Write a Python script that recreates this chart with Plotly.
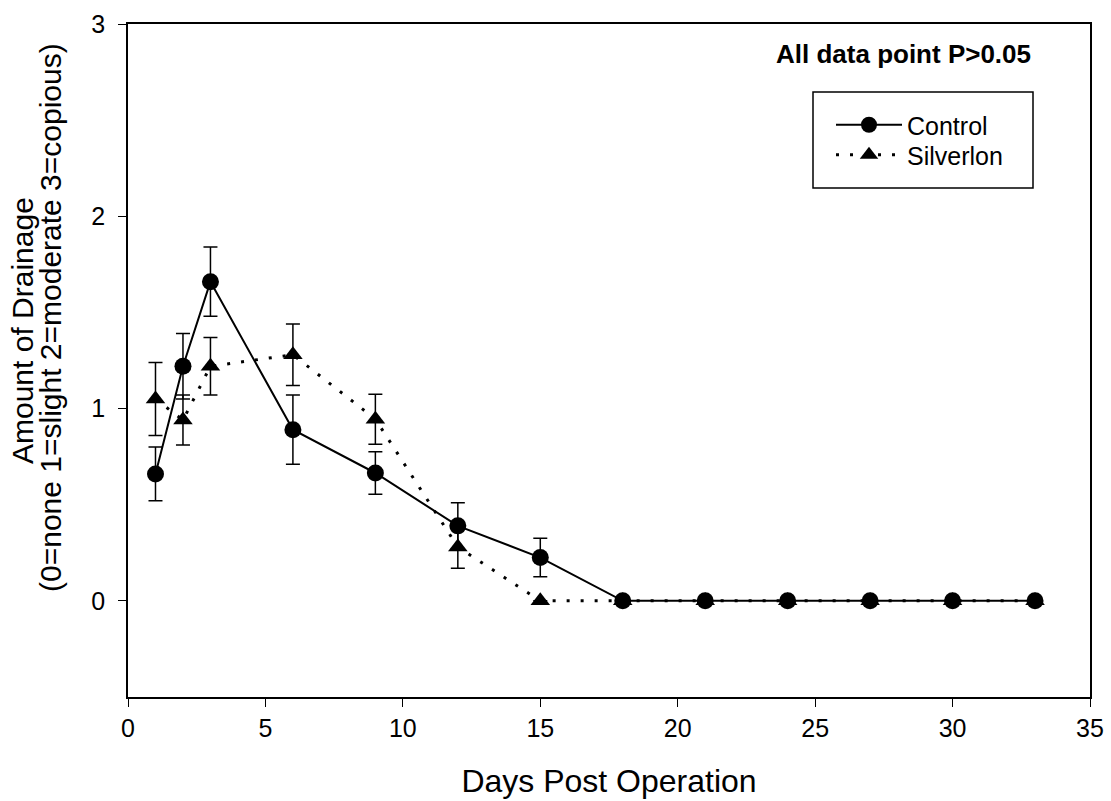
import plotly.graph_objects as go

days = [1, 2, 3, 6, 9, 12, 15, 18, 21, 24, 27, 30, 33]
control = [0.66, 1.22, 1.66, 0.89, 0.665, 0.39, 0.225, 0, 0, 0, 0, 0, 0]
control_err = [0.14, 0.17, 0.18, 0.18, 0.11, 0.12, 0.10, 0, 0, 0, 0, 0, 0]
silverlon = [1.05, 0.94, 1.22, 1.28, 0.945, 0.28, 0, 0, 0, 0, 0, 0, 0]
silverlon_err = [0.19, 0.13, 0.15, 0.16, 0.13, 0.11, 0, 0, 0, 0, 0, 0, 0]

x_ticks = [0, 5, 10, 15, 20, 25, 30, 35]
y_ticks = [0, 1, 2, 3]

font = "Liberation Sans, Arial, sans-serif"

L, R, T, B = 128, 21, 24, 104
W, H = 1111, 801
pw, ph = W - L - R, H - T - B

def px_x(px):
    return (px - L) / pw

def px_y(py):
    return (H - B - py) / ph

fig = go.Figure()
fig.add_trace(go.Scatter(
    x=days, y=silverlon, name="Silverlon", mode="lines+markers", legend="legend2",
    line=dict(color="black", width=3, dash="3px,11px"),
    marker=dict(symbol="triangle-up", size=17, color="black"),
    error_y=dict(type="data", array=silverlon_err, color="black", thickness=1.5, width=7),
))
fig.add_trace(go.Scatter(
    x=days, y=control, name="Control", mode="lines+markers", legend="legend",
    line=dict(color="black", width=2),
    marker=dict(symbol="circle", size=17, color="black"),
    error_y=dict(type="data", array=control_err, color="black", thickness=1.5, width=7),
))

leg_common = dict(xanchor="left", yanchor="middle", borderwidth=0,
                  bgcolor="rgba(0,0,0,0)", font=dict(size=25, family=font),
                  itemwidth=66)

fig.update_layout(
    width=W, height=H,
    margin=dict(l=L, r=R, t=T, b=B),
    paper_bgcolor="white", plot_bgcolor="white",
    font=dict(family=font, size=25, color="black"),
    showlegend=True,
    legend=dict(x=px_x(831), y=px_y(125), **leg_common),
    legend2=dict(x=px_x(831), y=px_y(155), **leg_common),
    shapes=[dict(
        type="rect", xref="paper", yref="paper",
        x0=px_x(813), x1=px_x(1033), y0=px_y(188), y1=px_y(92),
        line=dict(color="black", width=1.5), fillcolor="rgba(0,0,0,0)",
    )],
    annotations=[
        dict(text="<b>All data point P>0.05</b>", x=px_x(903), y=px_y(54),
             xref="paper", yref="paper", xanchor="center", yanchor="middle",
             showarrow=False, font=dict(size=26, family=font)),
        dict(text="Amount of Drainage", x=px_x(22), y=px_y(331),
             xref="paper", yref="paper", xanchor="center", yanchor="middle",
             textangle=-90, showarrow=False, font=dict(size=30, family=font)),
        dict(text="(0=none 1=slight 2=moderate 3=copious)", x=px_x(50), y=px_y(318),
             xref="paper", yref="paper", xanchor="center", yanchor="middle",
             textangle=-90, showarrow=False, font=dict(size=30, family=font)),
    ],
)
fig.update_xaxes(
    range=[0, 35], tickvals=x_ticks, automargin=False,
    showline=True, linecolor="black", linewidth=1.5, mirror=True,
    ticks="outside", ticklen=8, tickcolor="black", showgrid=False, zeroline=False,
    title=dict(text="Days Post Operation", font=dict(size=32), standoff=29),
    tickfont=dict(size=25),
)
fig.update_yaxes(
    range=[-0.5, 3], tickvals=y_ticks, automargin=False,
    showline=True, linecolor="black", linewidth=1.5, mirror=True,
    ticks="outside", ticklen=8, tickcolor="black", showgrid=False, zeroline=False,
    tickfont=dict(size=25), ticklabelstandoff=8,
)

fig.write_html("out.html")
